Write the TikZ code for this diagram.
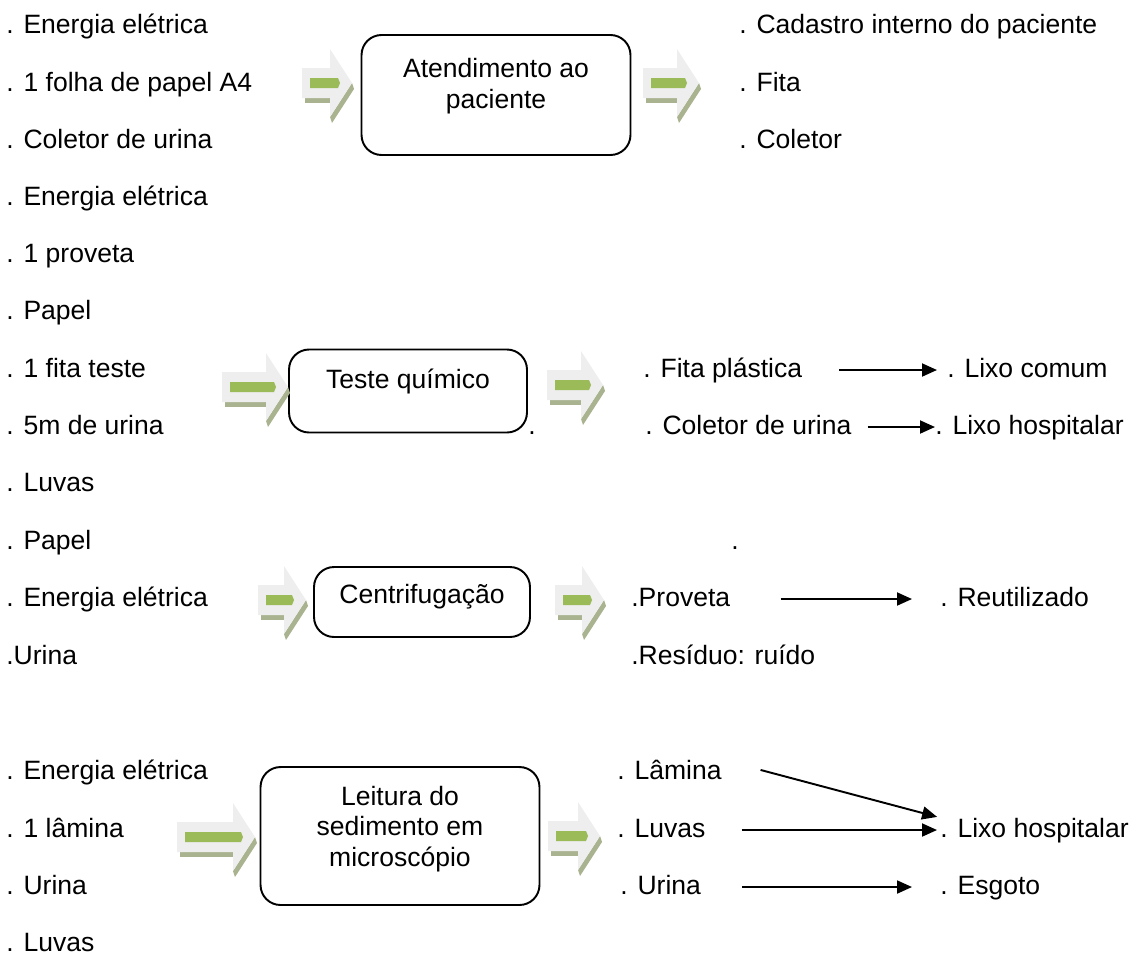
\documentclass[tikz,border=0pt]{standalone}
\usepackage{fontspec}
\setmainfont{Liberation Sans}
\usetikzlibrary{arrows.meta}
\definecolor{verdeclaro}{HTML}{EEEEEE}
\definecolor{sombra}{HTML}{A9B38F}
\definecolor{verde}{HTML}{9BBB59}
\tikzstyle{txt}=[inner sep=0pt,anchor=base west,text height=0.38cm,text depth=0.1cm]
\tikzstyle{caixa}=[draw=black,line width=1.1pt,rounded corners=0.4cm,inner sep=0pt]
\tikzstyle{caixatxt}=[align=center,inner sep=0pt]
\tikzstyle{seta}=[-{Triangle[length=0.3cm,width=0.26cm]},line width=1.1pt]
\tikzset{pics/setaverde/.style={code={
\fill[sombra] (3,15) -- ({#1-22},15) -- ({#1-22},20) -- (3,20) -- cycle;
\fill[sombra] (#1,0) -- ({#1+2},6) -- ({#1-20},40) -- ({#1-22},34) -- cycle;
\fill[verdeclaro] (0,-15) -- ({#1-22},-15) -- ({#1-22},-34) -- (#1,0) -- ({#1-22},34) -- ({#1-22},15) -- (0,15) -- cycle;
\fill[verde] (8,-5) -- ({#1-14},-5) -- ({#1-12},0) -- ({#1-14},5) -- (8,5) -- cycle;
}}}

\begin{document}
\begin{tikzpicture}[x=0.02cm,y=-0.02cm,font=\fontsize{15.1pt}{17.5pt}\selectfont]
\useasboundingbox (0,0) rectangle (1142,954);
\node[txt] (ee1) at (6,33) {. Energia elétrica};
\node[txt] (folha) at (6,91) {. 1 folha de papel A4};
\node[txt] (coletor1) at (6,148) {. Coletor de urina};
\node[txt] (ee2) at (6,205) {. Energia elétrica};
\node[txt] (proveta1) at (6,262) {. 1 proveta};
\node[txt] (papel1) at (6,319) {. Papel};
\node[txt] (fitateste) at (6,377) {. 1 fita teste};
\node[txt] (urina5m) at (6,434) {. 5m de urina};
\node[txt] (luvas1) at (6,491) {. Luvas};
\node[txt] (papel2) at (6,549) {. Papel};
\node[txt] (ee3) at (6,606) {. Energia elétrica};
\node[txt] (urina1) at (6,664) {.Urina};
\node[txt] (ee4) at (6,779) {. Energia elétrica};
\node[txt] (lamina1) at (6,837) {. 1 lâmina};
\node[txt] (urina2) at (6,894) {. Urina};
\node[txt] (luvas2) at (6,951) {. Luvas};

\node[caixa,minimum width=5.38cm,minimum height=2.4cm] (atend) at (496,95) {};
\node[caixatxt] (atendtxt) at (496,86) {Atendimento ao\\paciente};
\node[caixa,minimum width=4.76cm,minimum height=1.66cm] (teste) at (408,391) {};
\node[caixatxt] (testetxt) at (408,381) {Teste químico};
\node[caixa,minimum width=4.32cm,minimum height=1.4cm] (centrif) at (422,602) {};
\node[caixatxt] (centriftxt) at (422,597) {Centrifugação};
\node[caixa,minimum width=5.58cm,minimum height=2.76cm] (leitura) at (400,836) {};
\node[caixatxt] (leituratxt) at (400,829) {Leitura do\\sedimento em\\microscópio};

\pic (sv1) at (302,83) {setaverde=50};
\pic (sv2) at (643,83) {setaverde=56};
\pic (sv3) at (222,387) {setaverde=66};
\pic (sv4) at (547,385) {setaverde=56};
\pic (sv5) at (258,600) {setaverde=48};
\pic (sv6) at (555,600) {setaverde=49};
\pic (sv7) at (177,837) {setaverde=78};
\pic (sv8) at (548,836) {setaverde=52};

\node[txt] (cadastro) at (739,33) {. Cadastro interno do paciente};
\node[txt] (fita) at (739,91) {. Fita};
\node[txt] (coletor2) at (739,148) {. Coletor};
\node[txt] (fitapl) at (643,377) {. Fita plástica};
\node[txt] (lixocomum) at (947,377) {. Lixo comum};
\node[txt] (coletor3) at (645,434) {. Coletor de urina};
\node[txt] (lixohosp1) at (935,434) {. Lixo hospitalar};
\node[txt] (ponto1) at (528,434) {.};
\node[txt] (ponto2) at (731,549) {.};
\node[txt] (proveta2) at (631,606) {.Proveta};
\node[txt] (reutil) at (940,606) {. Reutilizado};
\node[txt] (residuo) at (631,664) {.Resíduo: ruído};
\node[txt] (lamina2) at (617,779) {. Lâmina};
\node[txt] (luvas3) at (617,837) {. Luvas};
\node[txt] (urina3) at (620,894) {. Urina};
\node[txt] (lixohosp2) at (940,837) {. Lixo hospitalar};
\node[txt] (esgoto) at (940,894) {. Esgoto};

\draw[seta,shorten <=0.74cm,shorten >=0.2cm] (fitapl.east) -- (lixocomum.west);
\draw[seta,shorten <=0.32cm] (coletor3.east) -- (lixohosp1.west);
\draw[seta,shorten <=1cm,shorten >=0.56cm] (proveta2.east) -- (reutil.west);
\draw[seta,shorten <=0.8cm,shorten >=0.06cm] (lamina2.north east) -- (lixohosp2.north west);
\draw[seta,shorten <=0.72cm,shorten >=0.06cm] (luvas3.east) -- (lixohosp2.west);
\draw[seta,shorten <=0.82cm,shorten >=0.56cm] (urina3.east) -- (esgoto.west);
\end{tikzpicture}
\end{document}
